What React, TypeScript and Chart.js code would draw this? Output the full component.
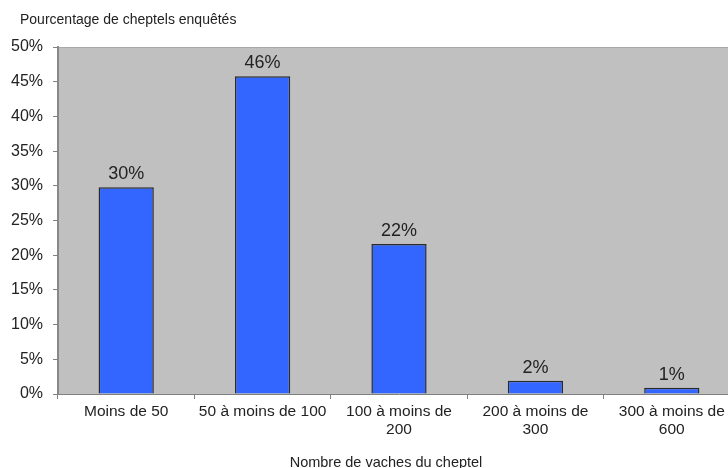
import React, { useEffect, useRef } from "react";
import { Chart, registerables } from "chart.js";

Chart.register(...registerables);

const categories: (string | string[])[] = [
  "Moins de 50",
  "50 à moins de 100",
  ["100 à moins de", "200"],
  ["200 à moins de", "300"],
  ["300 à moins de", "600"],
];
const values: number[] = [29.8, 45.8, 21.6, 1.9, 0.9];
const yTitle = "Pourcentage de cheptels enquêtés";
const xTitle = "Nombre de vaches du cheptel";

const FONT = "'Liberation Sans', Arial, sans-serif";

const bgPlugin = {
  id: "plotBg",
  beforeDraw(chart: any) {
    const { ctx, chartArea } = chart;
    if (!chartArea) return;
    ctx.save();
    ctx.fillStyle = "#c0c0c0";
    ctx.fillRect(chartArea.left, chartArea.top, chartArea.right - chartArea.left, chartArea.bottom - chartArea.top);
    ctx.strokeStyle = "#a8a8a8";
    ctx.lineWidth = 1;
    ctx.beginPath();
    ctx.moveTo(chartArea.left, chartArea.top + 0.5);
    ctx.lineTo(chartArea.right, chartArea.top + 0.5);
    ctx.stroke();
    ctx.restore();
  },
};

const labelPlugin = {
  id: "barLabels",
  afterDatasetsDraw(chart: any) {
    const { ctx } = chart;
    const meta = chart.getDatasetMeta(0);
    ctx.save();
    ctx.font = `18px ${FONT}`;
    ctx.fillStyle = "#222";
    ctx.textAlign = "center";
    ctx.textBaseline = "alphabetic";
    meta.data.forEach((bar: any, i: number) => {
      ctx.fillText(Math.round(values[i]) + "%", bar.x, bar.y - 8);
    });
    ctx.restore();
  },
};

const titlesPlugin = {
  id: "titles",
  afterDraw(chart: any) {
    const { ctx } = chart;
    ctx.save();
    ctx.fillStyle = "#222";
    ctx.textBaseline = "middle";
    ctx.font = `14px ${FONT}`;
    ctx.textAlign = "left";
    ctx.fillText(yTitle, 20, 20);
    ctx.font = `14.5px ${FONT}`;
    ctx.textAlign = "center";
    ctx.fillText(xTitle, 386, 463);
    ctx.restore();
  },
};

export default function App() {
  const ref = useRef<HTMLCanvasElement | null>(null);
  useEffect(() => {
    if (!ref.current) return;
    const chart = new Chart(ref.current, {
      type: "bar",
      data: {
        labels: categories,
        datasets: [
          {
            data: values,
            backgroundColor: "#3366ff",
            borderColor: "#2a2a2a",
            borderWidth: 1.5,
            categoryPercentage: 1,
            barPercentage: 0.405,
          },
        ],
      },
      options: {
        animation: false,
        responsive: false,
        maintainAspectRatio: false,
        layout: { padding: { left: 0, top: 47, right: 22, bottom: 0 } },
        plugins: { legend: { display: false }, tooltip: { enabled: false }, title: { display: false } },
        scales: {
          x: {
            grid: { display: true, drawOnChartArea: false, offset: true, tickLength: 5, color: "#808080", lineWidth: 1 },
            border: { display: true, color: "#808080", width: 1 },
            ticks: {
              color: "#222",
              font: { family: FONT, size: 15.5, lineHeight: 1.2 },
              padding: 3,
              maxRotation: 0,
              autoSkip: false,
            },
            afterFit(scale: any) {
              scale.height = 74;
            },
          },
          y: {
            min: 0,
            max: 50,
            ticks: {
              stepSize: 5,
              color: "#222",
              font: { family: FONT, size: 16 },
              padding: 10,
              callback: (v: any) => v + "%",
            },
            grid: { display: true, drawOnChartArea: false, tickLength: 5, color: "#808080", lineWidth: 1 },
            border: { display: true, color: "#888888", width: 2 },
            afterFit(scale: any) {
              scale.width = 58;
            },
          },
        },
      },
      plugins: [bgPlugin, labelPlugin, titlesPlugin],
    });
    return () => chart.destroy();
  }, []);
  return (
    <div style={{ position: "fixed", left: 0, top: 0, width: 728, height: 468, overflow: "hidden", background: "#fff" }}>
      <canvas ref={ref} width={762} height={468} style={{ display: "block", width: 762, height: 468 }} />
    </div>
  );
}
